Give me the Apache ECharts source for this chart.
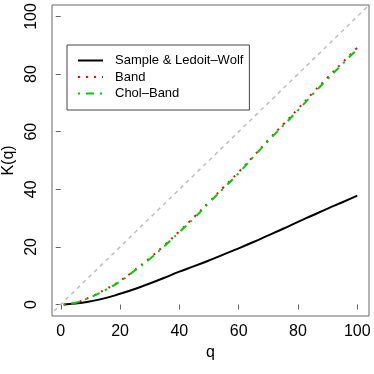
<!DOCTYPE html>
<html>
<head>
<meta charset="utf-8">
<script src="https://cdn.jsdelivr.net/npm/echarts@6/dist/echarts.min.js"></script>
<style>
  html, body { margin: 0; padding: 0; background: #fff; }
  #main { width: 374px; height: 374px; }
</style>
</head>
<body>
<div id="main"></div>
<script>
const qValues = [1, 5, 10, 15, 20, 25, 30, 35, 40, 45, 50, 55, 60, 65, 70, 75, 80, 85, 90, 95, 100];
const sampleLW = [0, 0.3, 1.1, 2.2, 3.7, 5.4, 7.3, 9.3, 11.4, 13.3, 15.3, 17.4, 19.5, 21.7, 24.0, 26.3, 28.7, 31.0, 33.3, 35.5, 37.8];
const band = [0, 0.6, 2.6, 5.2, 8.2, 12, 16.1, 20.6, 25.4, 30.4, 35.6, 40.8, 46, 51.5, 57.1, 62.5, 67.9, 73.5, 78.8, 84, 89.2];
const cholBand = [0, 0.6, 2.5, 5, 8, 11.8, 15.8, 20.3, 25.1, 30, 35.3, 40.4, 45.6, 51.3, 56.8, 62.1, 67.4, 73, 78.3, 83.5, 88.6];
// y = x reference line
const refLine = [-10, 120];
const tickValues = [0, 20, 40, 60, 80, 100];

const font = 'Liberation Sans, Arial, sans-serif';
const pair = (xs, ys) => xs.map((x, i) => [x, ys[i]]);

const chart = echarts.init(document.getElementById('main'), null, { renderer: 'canvas' });

const option = {
  animation: false,
  backgroundColor: '#fff',
  textStyle: { fontFamily: font },
  grid: {
    left: 52, top: 5, right: 5, bottom: 58,
    outerBoundsMode: 'none',
    containLabel: false,
    show: true,
    borderColor: '#666',
    borderWidth: 1
  },
  legend: {
    data: ['Sample & Ledoit\u2013Wolf', 'Band', 'Chol\u2013Band'],
    orient: 'vertical',
    left: 67, top: 45,
    padding: [9, 6, 10, 10],
    itemWidth: 25,
    itemHeight: 12,
    itemGap: 3.5,
    borderColor: '#444',
    borderWidth: 1,
    borderRadius: 0,
    backgroundColor: '#fff',
    itemStyle: { opacity: 0, borderWidth: 0 },
    textStyle: { fontFamily: font, fontSize: 13, color: '#000', padding: [0, 0, 0, 7] }
  },
  xAxis: {
    type: 'value',
    min: -2.96, max: 103.96,
    name: 'q',
    nameLocation: 'middle',
    nameGap: 24,
    nameTextStyle: { fontFamily: font, fontSize: 16, color: '#000' },
    axisLine: { show: false },
    axisTick: { show: true, length: 5, lineStyle: { color: '#666' }, customValues: tickValues },
    axisLabel: { fontFamily: font, fontSize: 16, color: '#000', margin: 8, customValues: tickValues },
    splitLine: { show: false }
  },
  yAxis: {
    type: 'value',
    min: -4, max: 104,
    name: 'K(q)',
    nameLocation: 'middle',
    nameGap: 33,
    nameRotate: 90,
    nameTextStyle: { fontFamily: font, fontSize: 16, color: '#000' },
    axisLine: { show: false },
    axisTick: { show: true, length: 5, lineStyle: { color: '#666' }, customValues: tickValues },
    axisLabel: { fontFamily: font, fontSize: 16, color: '#000', margin: 12, rotate: 90, customValues: tickValues },
    splitLine: { show: false }
  },
  series: [
    {
      name: 'ref',
      type: 'line',
      data: pair(refLine, refLine),
      showSymbol: false,
      silent: true,
      clip: true,
      lineStyle: { color: '#bebebe', width: 1.5, type: [4, 4] },
      z: 1
    },
    {
      name: 'Sample & Ledoit\u2013Wolf',
      type: 'line',
      data: pair(qValues, sampleLW),
      smooth: true,
      showSymbol: false,
      symbol: 'none',
      symbolSize: 0,
      lineStyle: { color: '#000', width: 2 },
      itemStyle: { color: '#000' }
    },
    {
      name: 'Band',
      type: 'line',
      data: pair(qValues, band),
      smooth: true,
      showSymbol: false,
      symbol: 'none',
      symbolSize: 0,
      lineStyle: { color: '#ff0000', width: 2, type: [2, 6] },
      itemStyle: { color: '#ff0000' }
    },
    {
      name: 'Chol\u2013Band',
      type: 'line',
      data: pair(qValues, cholBand),
      smooth: true,
      showSymbol: false,
      symbol: 'none',
      symbolSize: 0,
      lineStyle: { color: '#00cd00', width: 2, type: [2, 6, 8, 6] },
      itemStyle: { color: '#00cd00' }
    }
  ]
};

chart.setOption(option);
</script>
</body>
</html>
